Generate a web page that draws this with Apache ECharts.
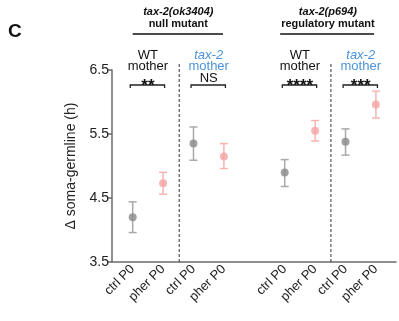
<!DOCTYPE html>
<html>
<head>
<meta charset="utf-8">
<script src="https://cdn.jsdelivr.net/npm/echarts@6/dist/echarts.min.js"></script>
<style>html,body{margin:0;padding:0;background:#fff;}#c{width:399px;height:321px;}</style>
</head>
<body>
<div id="c"></div>
<script>
// ---- data ----
const categories = ['ctrl P0','pher P0','ctrl P0','pher P0','','ctrl P0','pher P0','ctrl P0','pher P0'];
const labelPositions = [0,1,2,3,5,6,7,8];
const ctrlX = [0, 2, 5, 7];
const ctrlMean = [4.20, 5.35, 4.90, 5.38];
const ctrlLow  = [3.96, 5.09, 4.68, 5.17];
const ctrlHigh = [4.44, 5.61, 5.10, 5.58];
const pherX = [1, 3, 6, 8];
const pherMean = [4.73, 5.15, 5.55, 5.96];
const pherLow  = [4.56, 4.96, 5.39, 5.75];
const pherHigh = [4.90, 5.35, 5.71, 6.17];
const yTicks = [3.5, 4.5, 5.5, 6.5];
const dividers = [1.53, 6.52];
const pairStart = [0, 2, 5, 7];
const pairSig = ['**', 'NS', '****', '***'];
const pairMother = ['WT', 'tax-2', 'WT', 'tax-2'];
const headerCenter = [1.5, 6.42];
const headerLine1 = ['tax-2(ok3404)', 'tax-2(p694)'];
const headerLine2 = ['null mutant', 'regulatory mutant'];
const headerSpan = [[0.0, 2.97], [4.85, 7.94]];

const FONT = 'Arial, "Liberation Sans", Helvetica, sans-serif';
const GRAY = '#8a8a8a', GRAY_BAR = '#a9a9a9';
const PINK = '#f5a3a3', PINK_BAR = '#f7b3b3';
const BLUE = '#4b93d8';

function errRender(color) {
  return function (params, api) {
    const x = api.value(0);
    const lo = api.coord([x, api.value(1)]);
    const hi = api.coord([x, api.value(2)]);
    const w = 4;
    const st = { stroke: color, lineWidth: 1.5 };
    return { type: 'group', children: [
      { type: 'line', shape: { x1: lo[0], y1: lo[1], x2: hi[0], y2: hi[1] }, style: st },
      { type: 'line', shape: { x1: hi[0]-w, y1: hi[1], x2: hi[0]+w, y2: hi[1] }, style: st },
      { type: 'line', shape: { x1: lo[0]-w, y1: lo[1], x2: lo[0]+w, y2: lo[1] }, style: st }
    ]};
  };
}

const chart = echarts.init(document.getElementById('c'), null, { renderer: 'canvas' });
chart.setOption({
  animation: false,
  backgroundColor: '#fff',
  grid: { left: 112, right: 3, top: 70, bottom: 59, containLabel: false },
  xAxis: {
    type: 'value', min: -0.68, max: 8.66,
    splitLine: { show: false },
    axisLine: { show: true, onZero: false, lineStyle: { color: '#6b6b6b', width: 1.5 } },
    axisTick: { show: false },
    axisLabel: {
      customValues: labelPositions,
      formatter: v => categories[Math.round(v)],
      rotate: 45, margin: 5, fontSize: 13, color: '#222', fontFamily: FONT
    }
  },
  yAxis: {
    type: 'value', min: 3.5, max: 6.5, interval: 1,
    name: 'Δ soma-germline (h)', nameLocation: 'middle', nameGap: 34,
    nameTextStyle: { fontSize: 14, color: '#222', fontFamily: FONT },
    splitLine: { show: false },
    axisLine: { show: true, onZero: false, lineStyle: { color: '#6b6b6b', width: 1.5 } },
    axisTick: { show: true, length: 5, customValues: yTicks, lineStyle: { color: '#6b6b6b', width: 1.5 } },
    axisLabel: { customValues: yTicks, formatter: v => v.toFixed(1), fontSize: 14, color: '#222', fontFamily: FONT, margin: 3 }
  },
  graphic: [
    { type: 'text', left: 8, top: 22, style: { text: 'C', fontSize: 19, fontWeight: 'bold', fill: '#111', fontFamily: FONT } }
  ],
  series: [
    { type: 'custom', clip: false, z: 1, renderItem: function (params, api) {
        const x = api.value(0);
        const b = api.coord([x, 3.5]);
        const t = api.coord([x, 6.5]);
        return { type: 'line', shape: { x1: b[0], y1: b[1], x2: t[0], y2: t[1] - 7 },
          style: { stroke: '#333', lineWidth: 1, lineDash: [3, 2] } };
      }, data: dividers.map(d => [d]) },
    { type: 'custom', clip: false, z: 2, renderItem: errRender(GRAY_BAR),
      data: ctrlX.map((x, i) => [x, ctrlLow[i], ctrlHigh[i]]) },
    { type: 'custom', clip: false, z: 2, renderItem: errRender(PINK_BAR),
      data: pherX.map((x, i) => [x, pherLow[i], pherHigh[i]]) },
    { type: 'scatter', z: 3, symbolSize: 8, itemStyle: { color: GRAY },
      data: ctrlX.map((x, i) => [x, ctrlMean[i]]) },
    { type: 'scatter', z: 3, symbolSize: 8, itemStyle: { color: PINK },
      data: pherX.map((x, i) => [x, pherMean[i]]) },
    // pair annotations
    { type: 'custom', clip: false, z: 4, renderItem: function (params, api) {
        const i = params.dataIndex;
        const s = api.value(0);
        const top = api.coord([s, 6.5])[1];
        const a = api.coord([s - 0.08, 6.5])[0];
        const b = api.coord([s + 1.05, 6.5])[0];
        const c = api.coord([s + 0.5, 6.5])[0];
        const yb = top + 15;
        const blue = pairMother[i] !== 'WT';
        const col = blue ? BLUE : '#111';
        const st = { stroke: '#222', lineWidth: 1.3 };
        const sig = pairSig[i];
        const isStar = sig.indexOf('*') >= 0;
        return { type: 'group', children: [
          { type: 'polyline', shape: { points: [[a, yb + 3], [a, yb], [b, yb], [b, yb + 3]] }, style: Object.assign({ fill: null }, st) },
          { type: 'text', style: { text: pairMother[i], x: c, y: top - 15, align: 'center', verticalAlign: 'middle',
              fill: col, fontSize: 13, fontFamily: FONT, fontStyle: blue ? 'italic' : 'normal' } },
          { type: 'text', style: { text: 'mother', x: c, y: top - 4, align: 'center', verticalAlign: 'middle',
              fill: col, fontSize: 13, fontFamily: FONT } },
          { type: 'text', style: { text: sig, x: c, y: isStar ? yb + 1 : yb - 7, align: 'center', verticalAlign: 'middle',
              fill: '#111', fontSize: isStar ? 17 : 13, fontWeight: isStar ? 'bold' : 'normal', fontFamily: FONT } }
        ]};
      }, data: pairStart.map(s => [s]) },
    // group headers
    { type: 'custom', clip: false, z: 4, renderItem: function (params, api) {
        const i = params.dataIndex;
        const c = api.coord([api.value(0), 6.5])[0];
        const a = api.coord([api.value(1), 6.5])[0];
        const b = api.coord([api.value(2), 6.5])[0];
        return { type: 'group', children: [
          { type: 'text', style: { text: headerLine1[i], x: c, y: 12, align: 'center', verticalAlign: 'middle',
              fill: '#111', fontSize: 11, fontWeight: 'bold', fontStyle: 'italic', fontFamily: FONT } },
          { type: 'text', style: { text: headerLine2[i], x: c, y: 24, align: 'center', verticalAlign: 'middle',
              fill: '#111', fontSize: 11, fontWeight: 'bold', fontFamily: FONT } },
          { type: 'line', shape: { x1: a, y1: 34, x2: b, y2: 34 }, style: { stroke: '#111', lineWidth: 1.5 } }
        ]};
      }, data: headerCenter.map((c, i) => [c, headerSpan[i][0], headerSpan[i][1]]) }
  ]
});
</script>
</body>
</html>
